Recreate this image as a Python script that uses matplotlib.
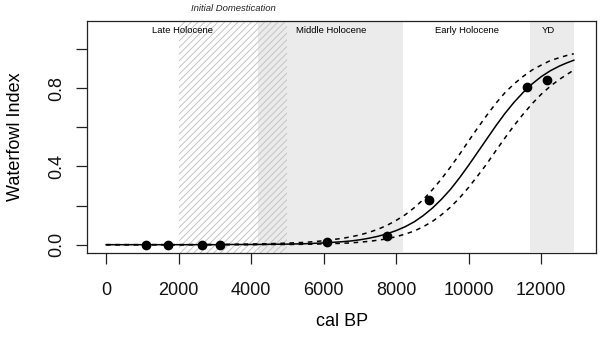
#!/usr/bin/env python
import matplotlib

matplotlib.use("Agg")
import matplotlib.pyplot as plt
from matplotlib.patches import Rectangle

plt.rcParams["font.family"] = ["Liberation Sans", "DejaVu Sans"]
plt.rcParams["hatch.linewidth"] = 0.7

# observed waterfowl index per dated assemblage
site_years = [1100, 1700, 2650, 3150, 6100, 7750, 8900, 11600, 12150]
site_index = [0.0, 0.0, 0.0, 0.0, 0.015, 0.046, 0.226, 0.806, 0.842]

# fitted curve and its confidence band
fit_years = [0, 1000, 2000, 3000, 3500, 4000, 4500, 5000, 5500, 6000,
             6500, 6750, 7000, 7250, 7500, 7750, 8000, 8250, 8500, 8750, 9000, 9250, 9500,
             9750, 10000, 10250, 10500, 10750, 11000, 11250, 11500, 11750, 12000, 12250,
             12500, 12700, 12900]
fit_index = [0.000, 0.000, 0.000, 0.000, 0.001, 0.001, 0.002, 0.003, 0.005, 0.009,
             0.015, 0.019, 0.025, 0.033, 0.043, 0.056, 0.072, 0.092, 0.117, 0.149, 0.187, 0.232, 0.283,
             0.342, 0.406, 0.473, 0.540, 0.607, 0.670, 0.727, 0.777, 0.821, 0.858, 0.888,
             0.912, 0.928, 0.942]
fit_upper = [0.000, 0.000, 0.000, 0.001, 0.002, 0.003, 0.005, 0.008, 0.012, 0.020,
             0.032, 0.040, 0.050, 0.063, 0.079, 0.099, 0.124, 0.153, 0.189, 0.231, 0.281, 0.336, 0.397,
             0.462, 0.530, 0.597, 0.661, 0.722, 0.776, 0.821, 0.859, 0.892, 0.917, 0.940,
             0.955, 0.966, 0.975]
fit_lower = [0.000, 0.000, 0.000, 0.000, 0.000, 0.000, 0.001, 0.001, 0.002, 0.004,
             0.007, 0.009, 0.013, 0.017, 0.023, 0.030, 0.041, 0.054, 0.070, 0.092, 0.119, 0.153, 0.192,
             0.239, 0.293, 0.352, 0.413, 0.480, 0.545, 0.608, 0.666, 0.720, 0.768, 0.809,
             0.844, 0.868, 0.892]

# periods (cal BP)
shaded_periods = [(4200, 8200), (11700, 12900)]
domestication = (2000, 5000)
period_names = ["Late Holocene", "Middle Holocene", "Early Holocene", "YD"]
period_centers = [2100, 6200, 9950, 12200]

x_ticks = [0, 2000, 4000, 6000, 8000, 10000, 12000]
y_ticks = [0.0, 0.2, 0.4, 0.6, 0.8, 1.0]
y_tick_labels = ["0.0", "", "0.4", "", "0.8", ""]


def main():
    fig = plt.figure(figsize=(6.0, 3.43), dpi=100)
    ax = fig.add_axes([0.1455, 0.2615, 0.8483, 0.6782])

    for start, end in shaded_periods:
        ax.add_patch(Rectangle((start, -0.035), end - start, 1.17,
                               facecolor="#EBEBEB", edgecolor="none", zorder=0))
    ax.add_patch(Rectangle((domestication[0], -0.04), domestication[1] - domestication[0], 1.18,
                           facecolor="none", edgecolor="#C4C4C4", hatch="/////",
                           linewidth=0, zorder=0.5))

    ax.plot(fit_years, fit_index, color="black", linewidth=1.1, zorder=2)
    ax.plot(fit_years, fit_upper, color="black", linewidth=1.1, dashes=(3, 3), zorder=2)
    ax.plot(fit_years, fit_lower, color="black", linewidth=1.1, dashes=(3, 3), zorder=2)
    ax.plot(site_years, site_index, "o", color="black", markersize=6, zorder=3)

    for name, center in zip(period_names, period_centers):
        ax.text(center, 1.095, name, ha="center", va="center", fontsize=6.8)
    ax.text(sum(domestication) / 2, 1.208, "Initial Domestication", ha="center", va="center",
            fontsize=6.8, style="italic", color="#222222", clip_on=False)

    ax.set_xlim(-520, 13520)
    ax.set_ylim(-0.044, 1.144)
    ax.set_xticks(x_ticks)
    ax.set_xticklabels([str(v) for v in x_ticks])
    ax.set_yticks(y_ticks)
    ax.set_yticklabels(y_tick_labels, rotation=90, va="center")
    ax.tick_params(axis="both", direction="out", length=8, width=0.9, labelsize=13,
                   color="#222222", labelcolor="#111111")
    ax.tick_params(axis="x", pad=13)
    ax.tick_params(axis="y", pad=8)
    for spine in ax.spines.values():
        spine.set_linewidth(0.9)
        spine.set_color("#222222")

    ax.set_xlabel("cal BP", fontsize=13, va="center")
    ax.xaxis.set_label_coords(0.5, -0.295)
    ax.set_ylabel("Waterfowl Index", fontsize=13, va="center")
    ax.yaxis.set_label_coords(-0.142, 0.5)

    fig.savefig("out.png", dpi=100)
    plt.close(fig)


if __name__ == "__main__":
    main()
